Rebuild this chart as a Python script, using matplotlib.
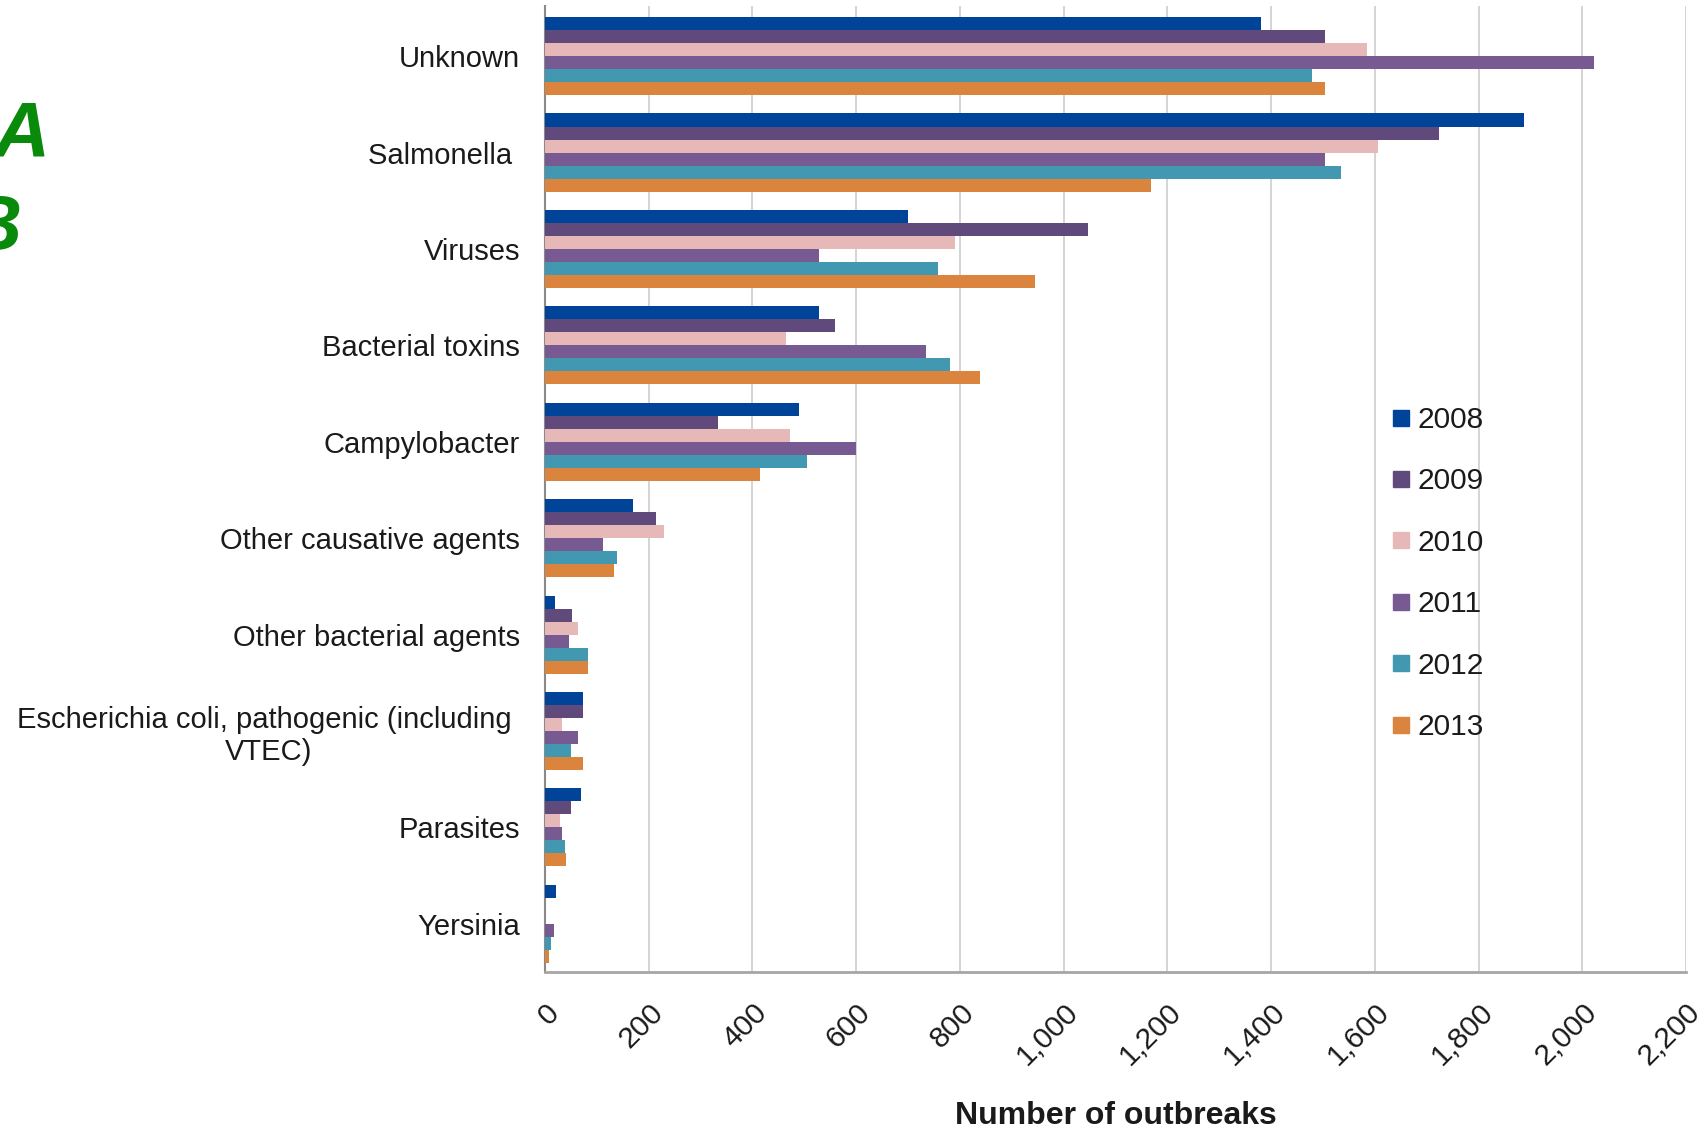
import matplotlib
matplotlib.use('Agg')
import matplotlib.pyplot as plt
from matplotlib import font_manager
from matplotlib.lines import Line2D
from matplotlib.ticker import FuncFormatter
import numpy as np

categories = ["Unknown", "Salmonella ", "Viruses", "Bacterial toxins", "Campylobacter",
              "Other causative agents", "Other bacterial agents",
              "Escherichia coli, pathogenic (including \nVTEC)", "Parasites", "Yersinia"]
years = ["2008", "2009", "2010", "2011", "2012", "2013"]
v2008 = [1381, 1888, 699, 528, 490, 169, 19, 74, 70, 21]
v2009 = [1503, 1723, 1047, 560, 334, 214, 52, 74, 50, 0]
v2010 = [1585, 1606, 791, 465, 472, 230, 64, 32, 29, 0]
v2011 = [2023, 1503, 528, 734, 600, 112, 46, 64, 32, 17]
v2012 = [1479, 1534, 757, 781, 505, 138, 82, 51, 38, 12]
v2013 = [1503, 1168, 945, 838, 415, 134, 82, 74, 41, 8]
series = [v2008, v2009, v2010, v2011, v2012, v2013]
colors = ["#00449a", "#604a7b", "#e6b8b7", "#765a91", "#4298b0", "#db843d"]
xticks = list(range(0, 2201, 200))

names = {f.name for f in font_manager.fontManager.ttflist}
base_font = "Liberation Sans" if "Liberation Sans" in names else "DejaVu Sans"
plt.rcParams['font.family'] = [base_font, 'DejaVu Sans']
fs = 21
leg_fs = 21.5
xl_fs = 23

fig = plt.figure(figsize=(17.03, 11.33), dpi=100)
ax = fig.add_axes([545/1703, 1 - 972/1133, (1686-545)/1703, (972-6)/1133])

y = np.arange(len(categories))
h = 0.135
for i, (vals, c, yr) in enumerate(zip(series, colors, years)):
    ax.barh(y + (i - 2.5) * h, vals, height=h, color=c, label=yr, zorder=3)

ax.set_xlim(0, 2200)
ax.set_ylim(9.5, -0.52)
ax.set_xticks(xticks)
ax.xaxis.set_major_formatter(FuncFormatter(lambda v, p: f"{int(v):,}"))
ax.set_yticks(y)
ax.set_yticklabels(categories, fontsize=fs, color="#1a1a1a", multialignment='center')
ax.tick_params(axis='y', length=0, pad=18)
ax.tick_params(axis='x', length=0, pad=19, labelsize=21.5, labelcolor="#1a1a1a")
for lab in ax.get_xticklabels():
    lab.set_rotation(45)
    lab.set_ha('right')
    lab.set_va('top')
    lab.set_rotation_mode('anchor')

ax.grid(axis='x', color="#d4d4d4", linewidth=1.4, zorder=0)
ax.set_axisbelow(True)
for s in ['top', 'right']:
    ax.spines[s].set_visible(False)
ax.spines['left'].set_color("#8a8a8a")
ax.spines['left'].set_linewidth(1.5)
ax.spines['bottom'].set_color("#a6a6a6")
ax.spines['bottom'].set_linewidth(2.0)

ax.set_xlabel("Number of outbreaks", fontsize=xl_fs, fontweight='bold', color="#1a1a1a", labelpad=22)

handles = [Line2D([], [], marker='s', linestyle='', markersize=11, color=c) for c in colors]
fig.legend(handles, years, loc='upper left', bbox_to_anchor=(1392/1703, 1 - 406/1133),
           frameon=False, fontsize=leg_fs, labelspacing=1.12, handlelength=0.6,
           handletextpad=0.25, borderpad=0, borderaxespad=0, labelcolor="#1a1a1a")

fig.text(-0.004, 1 - 157/1133, "A", color="#0a8a0a", fontsize=56, fontweight='bold',
         fontstyle='italic', ha='left', va='baseline')
fig.text(-0.02, 1 - 250/1133, "B", color="#0a8a0a", fontsize=56, fontweight='bold',
         fontstyle='italic', ha='left', va='baseline')

fig.savefig("out.png", dpi=100)
